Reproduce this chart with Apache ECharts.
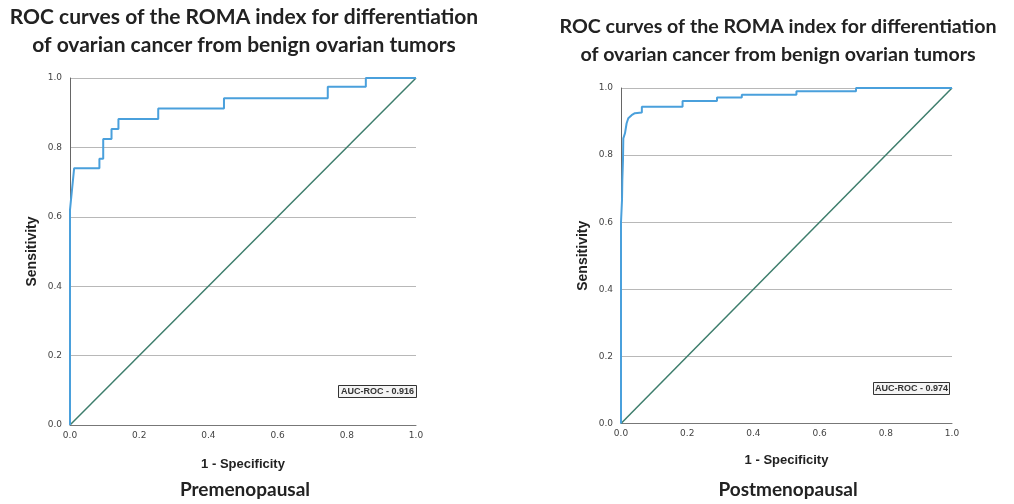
<!DOCTYPE html>
<html>
<head>
<meta charset="utf-8">
<script src="https://cdn.jsdelivr.net/npm/echarts@6/dist/echarts.min.js"></script>
<style>
  html, body { margin: 0; padding: 0; background: #ffffff; }
  #chart { width: 1014px; height: 504px; }
</style>
</head>
<body>
<div id="chart"></div>
<script>
// ROC curve points (1 - specificity, sensitivity), premenopausal group
const fprPre  = [0, 0, 0.003, 0.012, 0.085, 0.085, 0.096, 0.096, 0.12, 0.12, 0.14, 0.14, 0.255, 0.255, 0.445, 0.445, 0.745, 0.745, 0.855, 0.855, 1.0];
const sensPre = [0, 0.62, 0.65, 0.74, 0.74, 0.767, 0.767, 0.824, 0.824, 0.853, 0.853, 0.882, 0.882, 0.912, 0.912, 0.942, 0.942, 0.975, 0.975, 1.0, 1.0];

// ROC curve points, postmenopausal group
const fprPost  = [0, 0, 0.003, 0.004, 0.006, 0.007, 0.012, 0.017, 0.022, 0.032, 0.042, 0.063, 0.063, 0.186, 0.186, 0.29, 0.29, 0.365, 0.365, 0.53, 0.53, 0.71, 0.71, 1.0];
const sensPost = [0, 0.60, 0.665, 0.725, 0.785, 0.85, 0.865, 0.895, 0.91, 0.919, 0.925, 0.927, 0.944, 0.944, 0.961, 0.961, 0.972, 0.972, 0.98, 0.98, 0.99, 0.99, 1.0, 1.0];

// Reference (chance) line
const chanceX = [0, 1];
const chanceY = [0, 1];

const aucPre = 0.916;
const aucPost = 0.974;

const titleText = 'ROC curves of the ROMA index for differentiation\nof ovarian cancer from benign ovarian tumors';
const groupNames = ['Premenopausal', 'Postmenopausal'];

const zip = (xs, ys) => xs.map((x, i) => [x, ys[i]]);

const tickFont = { fontFamily: 'DejaVu Sans', fontSize: 9, color: '#444' };
const axisNameStyle = { fontFamily: 'Liberation Sans', fontSize: 13, fontWeight: 'bold', color: '#222' };

function makeX(gridIndex, gap) {
  return {
    gridIndex, type: 'value', min: 0, max: 1, interval: 0.2,
    name: '1 - Specificity', nameLocation: 'middle', nameGap: gap,
    nameTextStyle: axisNameStyle,
    axisLine: { show: true, lineStyle: { color: '#777', width: 1 } },
    axisTick: { show: false },
    splitLine: { show: false },
    axisLabel: Object.assign({ formatter: v => v.toFixed(1), margin: 6 }, tickFont)
  };
}
function makeY(gridIndex, gap) {
  return {
    gridIndex, type: 'value', min: 0, max: 1, interval: 0.2,
    name: 'Sensitivity', nameLocation: 'middle', nameGap: gap,
    nameTextStyle: Object.assign({}, axisNameStyle, { fontSize: 14 }),
    axisLine: { show: true, lineStyle: { color: '#666', width: 1 } },
    axisTick: { show: false },
    splitLine: { show: true, lineStyle: { color: '#b8b8b8', width: 1 } },
    axisLabel: Object.assign({ formatter: v => v.toFixed(1), margin: 8 }, tickFont)
  };
}

const titleStyle = { fontFamily: 'Lato', fontWeight: 'bold', fontSize: 21, color: '#222', lineHeight: 28 };
const groupStyle = { fontFamily: 'Lato', fontWeight: 'bold', fontSize: 19, color: '#222' };
const aucStyle = { fontFamily: 'Liberation Sans', fontSize: 9, color: '#333' };

const option = {
  backgroundColor: '#ffffff',
  animation: false,
  title: [
    { text: titleText, left: 244, top: 3, padding: 0, textAlign: 'center', textStyle: titleStyle },
    { text: titleText, left: 778, top: 13, padding: 0, textAlign: 'center', textStyle: Object.assign({}, titleStyle, { fontSize: 19.6 }) },
    { text: groupNames[0], left: 245, top: 480, padding: 0, textAlign: 'center', textStyle: groupStyle },
    { text: groupNames[1], left: 788, top: 480, padding: 0, textAlign: 'center', textStyle: groupStyle },
    { text: 'AUC-ROC - ' + aucPre.toFixed(3), left: 338, top: 385, padding: [2, 3], borderColor: '#333', borderWidth: 1, backgroundColor: '#f4f4f4', textStyle: aucStyle },
    { text: 'AUC-ROC - ' + aucPost.toFixed(3), left: 873, top: 382, padding: [2, 2], borderColor: '#333', borderWidth: 1, backgroundColor: '#f4f4f4', textStyle: aucStyle }
  ],
  grid: [
    { left: 70, width: 346, top: 78, height: 347 },
    { left: 621, width: 331, top: 88, height: 335.5 }
  ],
  xAxis: [makeX(0, 33), makeX(1, 30)],
  yAxis: [makeY(0, 31), makeY(1, 31)],
  series: [
    { type: 'line', xAxisIndex: 0, yAxisIndex: 0, data: zip(chanceX, chanceY), symbol: 'none',
      lineStyle: { color: '#3d7d6c', width: 1.5 } },
    { type: 'line', xAxisIndex: 0, yAxisIndex: 0, data: zip(fprPre, sensPre), symbol: 'none',
      lineStyle: { color: '#4aa0dc', width: 2 } },
    { type: 'line', xAxisIndex: 1, yAxisIndex: 1, data: zip(chanceX, chanceY), symbol: 'none',
      lineStyle: { color: '#3d7d6c', width: 1.5 } },
    { type: 'line', xAxisIndex: 1, yAxisIndex: 1, data: zip(fprPost, sensPost), symbol: 'none',
      lineStyle: { color: '#4aa0dc', width: 2 } }
  ]
};

const chart = echarts.init(document.getElementById('chart'), null, { renderer: 'canvas' });
chart.setOption(option);
</script>
</body>
</html>
